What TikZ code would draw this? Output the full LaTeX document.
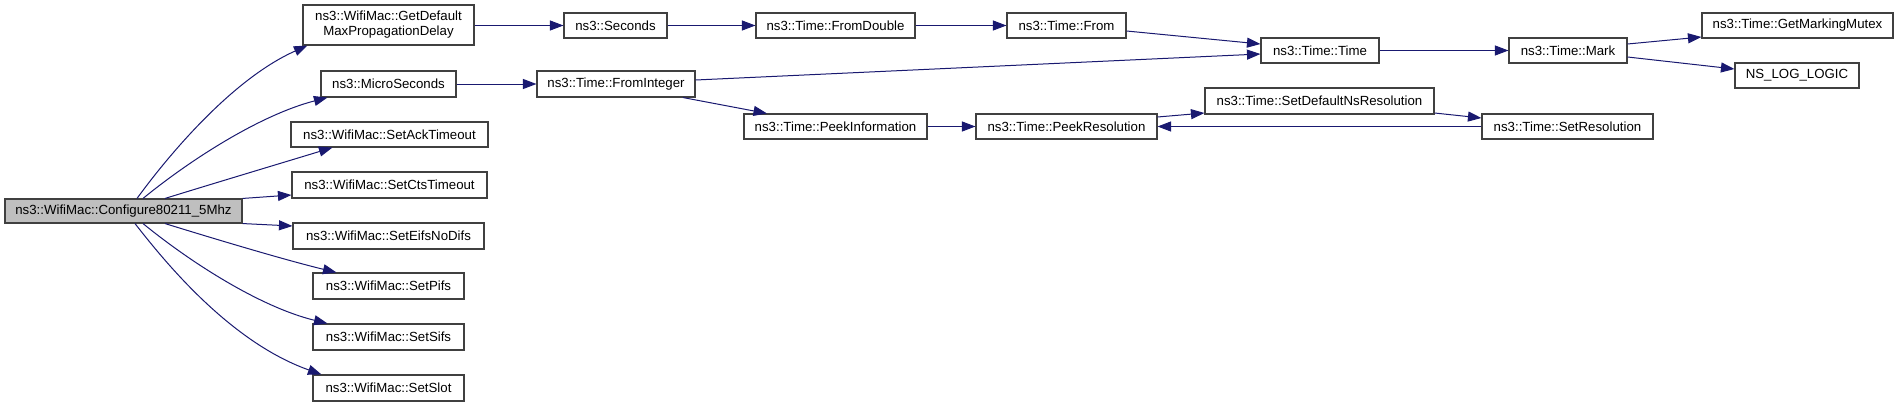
\documentclass[tikz,border=0pt]{standalone}
\usepackage{fontspec}
\setmainfont{Liberation Sans}
\usetikzlibrary{arrows.meta}
\definecolor{edgeblue}{HTML}{191970}
\definecolor{confgray}{HTML}{BFBFBF}
\definecolor{boxline}{HTML}{404040}
\begin{document}
\begin{tikzpicture}[x=1pt,y=-1pt,
  box/.style={draw=boxline, line width=1.1pt, fill=white, inner sep=0pt,
    minimum height=25pt, font=\fontsize{13.25}{15}\selectfont, align=center},
  edge/.style={draw=edgeblue, line width=1pt, -{Triangle[length=13.5pt,width=10pt]}}]
\useasboundingbox (0,0) rectangle (1899,407);
% nodes
\node[box, fill=confgray, minimum width=237pt, minimum height=24pt] (conf) at (123.5,211) {ns3::WifiMac::Configure80211\_5Mhz};
\node[box, minimum width=171pt, minimum height=40pt] (gdm) at (388.5,25) {ns3::WifiMac::GetDefault\\MaxPropagationDelay};
\node[box, minimum width=135pt, minimum height=26pt] (micro) at (388.5,84) {ns3::MicroSeconds};
\node[box, minimum width=197pt] (ack) at (389.5,134.5) {ns3::WifiMac::SetAckTimeout};
\node[box, minimum width=195pt, minimum height=26pt] (cts) at (389.5,185) {ns3::WifiMac::SetCtsTimeout};
\node[box, minimum width=191pt, minimum height=26pt] (eifs) at (388.5,236) {ns3::WifiMac::SetEifsNoDifs};
\node[box, minimum width=151pt, minimum height=26pt] (pifs) at (388.5,286) {ns3::WifiMac::SetPifs};
\node[box, minimum width=151pt, minimum height=26pt] (sifs) at (388.5,337) {ns3::WifiMac::SetSifs};
\node[box, minimum width=151pt, minimum height=26pt] (slot) at (388.5,388) {ns3::WifiMac::SetSlot};
\node[box, minimum width=103pt] (sec) at (615.5,25.5) {ns3::Seconds};
\node[box, minimum width=159pt] (fdbl) at (835.5,25.5) {ns3::Time::FromDouble};
\node[box, minimum width=158pt, minimum height=26pt] (fint) at (616,84) {ns3::Time::FromInteger};
\node[box, minimum width=183pt] (pinfo) at (835.5,126.5) {ns3::Time::PeekInformation};
\node[box, minimum width=119pt] (from) at (1066.5,25.5) {ns3::Time::From};
\node[box, minimum width=118pt] (time) at (1320,50.5) {ns3::Time::Time};
\node[box, minimum width=229pt, minimum height=26pt] (sdns) at (1319.5,101) {ns3::Time::SetDefaultNsResolution};
\node[box, minimum width=181pt] (pres) at (1066.5,126.5) {ns3::Time::PeekResolution};
\node[box, minimum width=118pt] (mark) at (1568,50.5) {ns3::Time::Mark};
\node[box, minimum width=191pt] (gmm) at (1797.5,25.5) {ns3::Time::GetMarkingMutex};
\node[box, minimum width=124pt] (nslog) at (1797,75.5) {NS\_LOG\_LOGIC};
\node[box, minimum width=171pt] (sres) at (1567.5,126.5) {ns3::Time::SetResolution};
% edges from Configure
\draw[edge] ([xshift=13.5]conf.north) .. controls (165,160) and (230,80) .. ([xshift=5]gdm.south west);
\draw[edge] ([xshift=19.5]conf.north) .. controls (190,160) and (260,115) .. ([xshift=7]micro.south west);
\draw[edge] ([xshift=41.5]conf.north) .. controls (215,183) and (285,162) .. ([xshift=42]ack.south west);
\draw[edge] (conf.north east) -- ([yshift=-10]cts.west);
\draw[edge] (conf.south east) -- ([yshift=10]eifs.west);
\draw[edge] ([xshift=41.5]conf.south) .. controls (215,239) and (285,260) .. ([xshift=24]pifs.north west);
\draw[edge] ([xshift=19.5]conf.south) .. controls (190,262) and (260,307) .. ([xshift=15]sifs.north west);
\draw[edge] ([xshift=11.5]conf.south) .. controls (165,262) and (230,342) .. ([xshift=9]slot.north west);
% other edges
\draw[edge] (gdm.east |- sec.west) -- (sec.west);
\draw[edge] (sec.east) -- (fdbl.west);
\draw[edge] (fdbl.east) -- (from.west);
\draw[edge] (micro.east) -- (fint.west);
\draw[edge] ([yshift=-5.5]from.east) -- ([yshift=6.5]time.west);
\draw[edge] ([yshift=4]fint.east) -- ([yshift=-3.5]time.west);
\draw[edge] ([xshift=67]fint.south) -- ([xshift=-68.5]pinfo.north);
\draw[edge] (pinfo.east) -- (pres.west);
\draw[edge] ([yshift=9.5]pres.east) -- ([yshift=-12]sdns.west);
\draw[edge] ([yshift=-12]sdns.east) -- ([yshift=8.5]sres.west);
\draw[edge] (sres.west) -- (pres.east);
\draw[edge] (time.east) -- (mark.west);
\draw[edge] ([yshift=6.5]mark.east) -- ([yshift=-11.5]gmm.west);
\draw[edge] ([yshift=-6.5]mark.east) -- ([yshift=6.5]nslog.west);
\end{tikzpicture}
\end{document}
